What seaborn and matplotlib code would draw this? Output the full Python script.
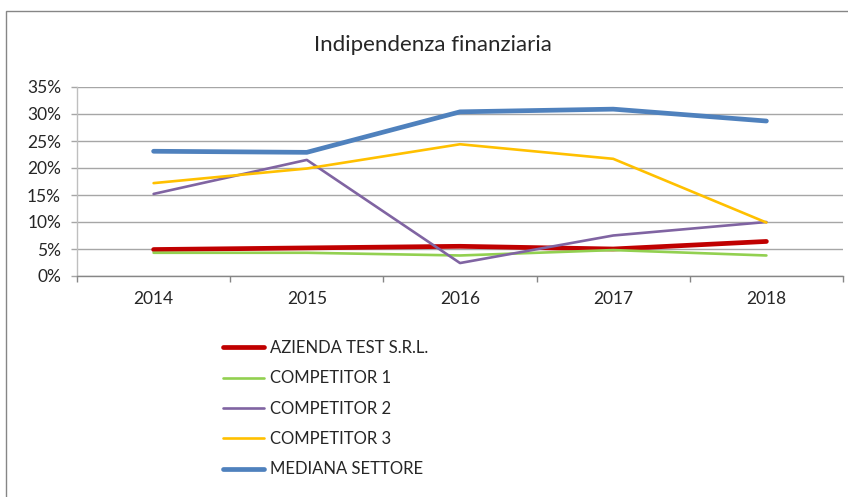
"""Indipendenza finanziaria: line chart recreated with seaborn."""

import matplotlib

matplotlib.use("Agg")
import matplotlib.pyplot as plt
import numpy as np
import pandas as pd
import seaborn as sns
from matplotlib.patches import Rectangle
from matplotlib.ticker import FuncFormatter

YEARS = ["2014", "2015", "2016", "2017", "2018"]
AZIENDA = [4.9, 5.2, 5.5, 5.0, 6.4]
COMPETITOR_1 = [4.3, 4.3, 3.8, 4.8, 3.8]
COMPETITOR_2 = [15.2, 21.5, 2.4, 7.5, 10.0]
COMPETITOR_3 = [17.2, 19.9, 24.4, 21.7, 9.9]
MEDIANA = [23.1, 22.9, 30.4, 30.9, 28.7]

SERIES = [
    ("AZIENDA TEST S.R.L.", AZIENDA, "#C00000", 3.4),
    ("COMPETITOR 1", COMPETITOR_1, "#92D050", 1.9),
    ("COMPETITOR 2", COMPETITOR_2, "#8064A2", 1.9),
    ("COMPETITOR 3", COMPETITOR_3, "#FFC000", 1.9),
    ("MEDIANA SETTORE", MEDIANA, "#4F81BD", 3.4),
]

GRID = "#a6a6a6"

sns.set_theme(style="white")
plt.rcParams["font.family"] = ["Lato", "DejaVu Sans"]

fig = plt.figure(figsize=(8.48, 4.97), dpi=100)
ax = fig.add_axes([77 / 848, 1 - 276 / 497, 766 / 848, 189 / 497])

frames = []
for name, values, _, _ in SERIES:
    frames.append(pd.DataFrame({"year": YEARS, "value": np.array(values) / 100, "serie": name}))
data = pd.concat(frames, ignore_index=True)

for name, _, color, lw in SERIES:
    sns.lineplot(
        data=data[data["serie"] == name],
        x="year",
        y="value",
        color=color,
        linewidth=lw,
        solid_capstyle="round",
        label=name,
        ax=ax,
        legend=False,
    )

ax.set_ylim(0, 0.35)
ax.set_yticks(np.arange(0, 0.36, 0.05))
ax.yaxis.set_major_formatter(FuncFormatter(lambda v, _: f"{v * 100:.0f}%"))
ax.set_xlim(-0.5, 4.5)
ax.set_xticks(range(len(YEARS)))
ax.set_xticklabels(YEARS)
ax.set_xticks(np.arange(-0.5, 4.6, 1), minor=True)
ax.tick_params(axis="x", which="major", length=0, pad=11, labelsize=12.5)
ax.tick_params(axis="x", which="minor", length=4, color="#868686", width=1, bottom=True)
ax.tick_params(axis="y", length=4.5, width=1, color=GRID, left=True, pad=7, labelsize=12.5)
ax.grid(axis="y", color=GRID, linewidth=1)
ax.set_xlabel("")
ax.set_ylabel("")
for side in ("top", "right"):
    ax.spines[side].set_visible(False)
ax.spines["left"].set_color("#bfbfbf")
ax.spines["bottom"].set_color("#868686")
for side in ("left", "bottom"):
    ax.spines[side].set_linewidth(1)

fig.text(433 / 848, 1 - 45 / 497, "Indipendenza finanziaria", ha="center", va="center", fontsize=16)

handles, labels = ax.get_legend_handles_labels()
fig.legend(
    handles,
    labels,
    loc="upper left",
    bbox_to_anchor=(208 / 848, 1 - 325 / 497),
    frameon=False,
    fontsize=12,
    handlelength=2.46,
    handletextpad=0.36,
    labelspacing=0.86,
)

# outer chart frame: only the left and top edges fall inside the picture
fig.add_artist(
    Rectangle((6 / 848, -0.1), 1.2, 1.1 - 11 / 497, transform=fig.transFigure,
              fill=False, edgecolor="#868686", linewidth=1)
)

fig.savefig("out.png", dpi=100)
